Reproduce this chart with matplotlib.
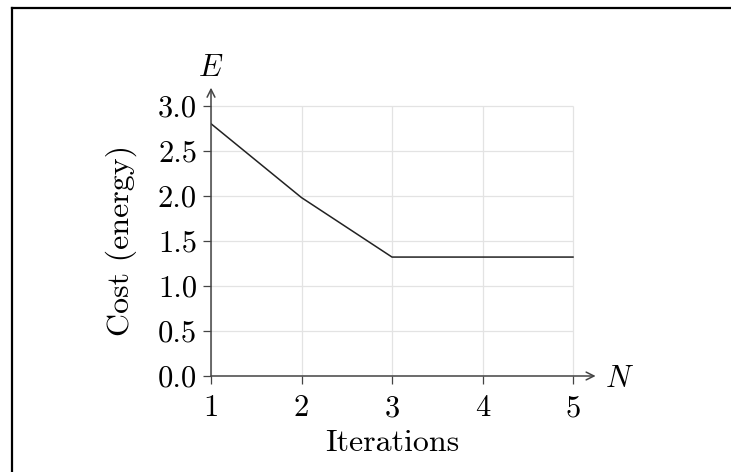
import matplotlib
matplotlib.use("Agg")
import matplotlib.pyplot as plt
from matplotlib.lines import Line2D

plt.rcParams["font.family"] = "serif"
plt.rcParams["font.serif"] = ["cmr10", "DejaVu Serif"]
plt.rcParams["mathtext.fontset"] = "cm"
plt.rcParams["axes.unicode_minus"] = False

# Data
iterations = [1, 2, 3, 4, 5]
cost = [2.8, 1.98, 1.32, 1.32, 1.32]
x_ticks = [1, 2, 3, 4, 5]
y_ticks = [0.0, 0.5, 1.0, 1.5, 2.0, 2.5, 3.0]
y_tick_labels = ["0.0", "0.5", "1.0", "1.5", "2.0", "2.5", "3.0"]

FS = 22
LABEL_FS = 23
AXIS_COLOR = "#444444"
GRID_COLOR = "#e3e3e3"

W, H = 731, 472
fig = plt.figure(figsize=(W / 100, H / 100), dpi=100)

x_max, y_max = 5.25, 3.2
left_px, right_px = 211, 211 + 4.25 * 90.5
bottom_px, top_px = 376, 376 - 3.2 * 90.1
ax = fig.add_axes([left_px / W, 1 - bottom_px / H,
                   (right_px - left_px) / W, (bottom_px - top_px) / H])
ax.set_xlim(1, x_max)
ax.set_ylim(0, y_max)

# Grid box limited to the tick range
ax.hlines(y_ticks, x_ticks[0], x_ticks[-1], color=GRID_COLOR, lw=0.9, zorder=0)
ax.vlines(x_ticks, y_ticks[0], y_ticks[-1], color=GRID_COLOR, lw=0.9, zorder=0)

ax.plot(iterations, cost, color="#222222", lw=1.1, zorder=3)

for s in ax.spines.values():
    s.set_visible(False)

# Axis lines with open arrow heads
ax.annotate("", xy=(x_max, 0), xytext=(1, 0), xycoords="data",
            arrowprops=dict(arrowstyle="->", color=AXIS_COLOR, lw=1.1,
                            shrinkA=0, shrinkB=0, mutation_scale=14),
            annotation_clip=False, zorder=4)
ax.annotate("", xy=(1, y_max), xytext=(1, 0), xycoords="data",
            arrowprops=dict(arrowstyle="->", color=AXIS_COLOR, lw=1.1,
                            shrinkA=0, shrinkB=0, mutation_scale=14),
            annotation_clip=False, zorder=4)

ax.set_xticks(x_ticks)
ax.set_xticklabels([str(v) for v in x_ticks])
ax.set_yticks(y_ticks)
ax.set_yticklabels(y_tick_labels)
ax.tick_params(direction="out", length=6, width=0.9, color=AXIS_COLOR,
               labelsize=FS)
ax.tick_params(axis="x", pad=7.5)
ax.tick_params(axis="y", pad=4)

ax.set_xlabel("Iterations", fontsize=LABEL_FS)
ax.xaxis.label.set_va("baseline")
ax.xaxis.set_label_coords((392 - left_px) / (right_px - left_px),
                          -(450.7 - bottom_px) / (bottom_px - top_px))
ax.set_ylabel("Cost (energy)", fontsize=LABEL_FS)
ax.yaxis.set_label_coords((137 - left_px) / (right_px - left_px),
                          1.5 / y_max)

ax.text(0, 1 + (bottom_px - 76 - (bottom_px - top_px)) / (bottom_px - top_px),
        "$E$", transform=ax.transAxes, ha="center", va="baseline", fontsize=FS)
ax.text((605 - left_px) / (right_px - left_px),
        -(386.7 - bottom_px) / (bottom_px - top_px),
        "$N$", transform=ax.transAxes, ha="left", va="baseline", fontsize=FS)

# Frame lines along the left and top edges
fig.add_artist(Line2D([11.5 / W, 11.5 / W], [0, 1 - 7.5 / H],
                      transform=fig.transFigure, color="black", lw=1.6))
fig.add_artist(Line2D([11.5 / W, 1], [1 - 7.5 / H, 1 - 7.5 / H],
                      transform=fig.transFigure, color="black", lw=1.6))

fig.savefig("out.png", dpi=100, facecolor="white")
